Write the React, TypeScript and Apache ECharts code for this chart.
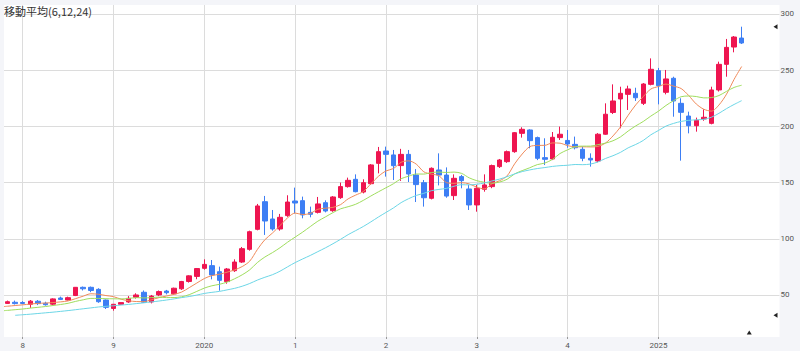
import React, { useEffect, useRef } from "react";
import * as echarts from "echarts";

// Monthly candles, Nov 2017 .. Dec 2025
const firstYear = 2017;
const firstMonth = 11; // November
const opens = [
  42.5, 43.5, 43.3, 41.7, 44.4, 42.6, 41.8, 47.3, 45.5, 49.5,
  56.8, 56.8, 55, 45.5, 38, 41.7, 43.8, 48, 52.4, 43.8,
  50, 53.5, 51, 55.5, 62, 66.5, 73.7, 76.1, 70.7, 61.9,
  71.6, 79.3, 90.6, 108.4, 133.0, 117.6, 108.7, 120.6, 133.6, 133.9,
  123.5, 123.5, 132.1, 125.0, 136.6, 146.4, 152.9, 141.6, 149.0, 167.1,
  178.1, 174.6, 165.1, 175.1, 156.7, 149.9, 136.0, 161.2, 156.7, 138.4,
  155.3, 144.3, 130.1, 144, 146.4, 164.2, 168.6, 177.5, 193.8, 196.8,
  190, 172.2, 171, 190, 187.5, 184, 179.6, 171.6, 169.2, 193,
  212.4, 224.4, 228.5, 229.4, 220.5, 237.4, 249.6, 230.3, 242.8, 220.5,
  209.2, 200.6, 206.6, 202.7, 232.4, 255.2, 270.6, 278.6,
];
const closes = [
  44, 42.3, 42.5, 44.5, 42.3, 41.3, 46.5, 46, 47.6, 56.8,
  55.5, 54, 44, 39, 41.7, 43.2, 47, 50, 43.5, 49,
  53, 52, 56, 62, 67, 73.5, 77.2, 67.8, 63.0, 73.1,
  79.3, 91.2, 106.3, 129.2, 115.8, 108.7, 119.1, 132.7, 131.8, 121.2,
  121.8, 131.0, 124.7, 137.2, 146.4, 152.0, 141.9, 149.9, 165.7, 177.5,
  175.1, 165.0, 175.1, 157.6, 148.2, 136.5, 162.7, 156.7, 138, 153.8,
  151.7, 130.1, 144.9, 147.9, 165.1, 170.1, 177.5, 194.4, 197.4, 187.3,
  171.6, 170.7, 190.3, 193, 184.3, 181, 171.6, 170.1, 193, 210.8,
  222.6, 229.4, 233.3, 225.5, 237.7, 250.8, 236.2, 242.2, 222.6, 212.5,
  200.6, 205.4, 208.1, 232.4, 255.2, 270.3, 279.5, 274.2,
];
const highs = [
  45, 45, 44.5, 45.5, 45.5, 44, 47, 48.5, 48.5, 57,
  57.5, 57.5, 56, 46, 42, 43.5, 49, 51.5, 54, 50,
  54, 54.5, 56.5, 62.5, 67.5, 74, 81.7, 81.1, 75.2, 74,
  81.7, 92.7, 107.2, 131, 138.1, 125.6, 122.1, 138.7, 145.5, 137.5,
  128.6, 137.2, 134.2, 138, 150, 154.4, 157.3, 152.9, 166.5, 181.7,
  182, 179, 180, 179, 162, 152.3, 163.5, 176, 163.5, 157.3,
  156.8, 147.9, 147.9, 157.3, 166, 171, 178.5, 195, 199.2, 197.4,
  190.9, 189.4, 195, 199.8, 196.8, 190.9, 182, 176, 194, 220.5,
  237.4, 235.3, 236.2, 234.4, 238.5, 260.5, 252, 250.2, 244.2, 225,
  213.1, 207.8, 215.2, 235.3, 257.6, 277.8, 280.4, 288.7,
];
const lows = [
  42, 41.5, 41.8, 38.5, 41, 40.5, 41, 45.5, 45, 49,
  54, 52.5, 43, 37.5, 36, 41.5, 43, 46.8, 43, 42.5,
  49, 50.5, 50, 54.5, 61, 64, 72.5, 63.9, 53.8, 60,
  70.5, 78.5, 89.4, 107.5, 103.4, 107.2, 107.2, 119.5, 122.6, 118.2,
  119.1, 122.5, 123.5, 124, 135.5, 145.5, 141.3, 140.4, 148, 158.2,
  155.3, 152.3, 151.5, 150.5, 132.7, 128.6, 135, 147.5, 136.5, 134.5,
  144.9, 125.6, 124.1, 141.9, 145, 163, 167.5, 176.5, 190, 180.5,
  170, 165.6, 170, 187.9, 181, 179.5, 169, 164.2, 168, 192.5,
  211, 198.3, 214.6, 222.6, 219, 236.5, 219.6, 228.5, 208.6, 169.5,
  193.8, 195.3, 205, 201.8, 231, 244.2, 265.9, 273.3,
];
const ma6Head = [39.4, 40.0, 40.6, 41.2, 41.9, 42.5]; // Oct 2017 .. Mar 2018
const ma12Head = [35.7, 36.3, 36.9, 37.5, 38.3, 39.0, 39.7, 40.6, 41.5, 42.6, 44.3, 45.7]; // Oct 2017 .. Sep 2018
const ma24Head = [
  31.9, 32.4, 32.9, 33.5, 34.1, 34.7, 35.4, 36.1, 36.9, 37.7, 38.5,
  39.3, 39.9, 40.4, 41.0, 41.6, 42.3, 43.0, 43.8, 44.6, 45.5, 46.5,
]; // Dec 2017 .. Sep 2019
const yTicks = [50, 100, 150, 200, 250, 300];
const leadBlank = 1;
const trailBlank = 5;
const titleText = "移動平均(6,12,24)";

const nData = closes.length;
const nCat = leadBlank + nData + trailBlank;
const categories: string[] = [];
const catYear: number[] = [];
const catMonth: number[] = [];
for (let k = 0; k < nCat; k++) {
  const m0 = firstYear * 12 + (firstMonth - 1) + (k - leadBlank);
  const y = Math.floor(m0 / 12);
  const m = (m0 % 12) + 1;
  categories.push(`${y}-${m < 10 ? "0" + m : m}`);
  catYear.push(y);
  catMonth.push(m);
}

function movingAvg(period: number, head: number[], headStart: number): (number | string)[] {
  const out: (number | string)[] = [];
  for (let k = 0; k < nCat; k++) {
    const i = k - leadBlank;
    if (i >= period - 1 && i < nData) {
      let s = 0;
      for (let j = i - period + 1; j <= i; j++) s += closes[j];
      out.push(+(s / period).toFixed(2));
    } else if (k >= headStart && k - headStart < head.length && i < nData) {
      out.push(head[k - headStart]);
    } else {
      out.push("-");
    }
  }
  return out;
}

export default function App() {
  const ref = useRef<HTMLDivElement>(null);
  useEffect(() => {
    document.body.style.margin = "0";
    if (!ref.current) return;
    const chart = echarts.init(ref.current, null, { renderer: "svg" });
    const candleData: any[] = [];
    for (let k = 0; k < nCat; k++) {
      const i = k - leadBlank;
      if (i >= 0 && i < nData) candleData.push([opens[i], closes[i], lows[i], highs[i]]);
      else candleData.push(["-", "-", "-", "-"]);
    }
    const ma6 = movingAvg(6, ma6Head, 0);
    const ma12 = movingAvg(12, ma12Head, 0);
    const ma24 = movingAvg(24, ma24Head, 2);
    const isJan = (idx: number) => catMonth[idx] === 1 && idx < leadBlank + nData;
    const maxHigh = Math.max(...highs);
    const numeric = (arr: (number | string)[]) => arr.filter((v) => typeof v === "number") as number[];
    const minAll = Math.min(...lows, ...numeric(ma6), ...numeric(ma12), ...numeric(ma24));
    const up = "#ee1550";
    const down = "#3d7ef4";
    const gridColor = "#dcdcdc";
    const leftMask = {
      type: "rect",
      left: 0,
      top: 0,
      shape: { width: 4, height: 351 },
      style: { fill: "#f4f5f9" },
      z: 100,
    };

    const option: any = {
      animation: false,
      backgroundColor: "#f4f5f9",
      title: {
        text: titleText,
        left: 4,
        top: 5,
        padding: 0,
        textStyle: { fontSize: 11, fontWeight: "normal", color: "#333", fontFamily: "'Noto Sans CJK JP', sans-serif" },
      },
      grid: {
        left: 0,
        right: 20.5,
        top: 5,
        bottom: 14,
        show: true,
        backgroundColor: "#ffffff",
        borderWidth: 0,
        containLabel: false,
        outerBoundsMode: "none",
      },
      xAxis: {
        type: "category",
        data: categories,
        boundaryGap: false,
        axisLine: { show: false },
        axisTick: {
          show: true,
          length: 2,
          interval: (idx: number) => isJan(idx),
          lineStyle: { color: "#999" },
        },
        axisLabel: {
          interval: (idx: number) => isJan(idx),
          formatter: (_v: string, idx: number) => {
            const y = catYear[idx];
            return y % 5 === 0 ? String(y) : String(y % 10);
          },
          fontSize: 8,
          color: "#555",
          margin: 4,
          fontFamily: "Roboto, sans-serif",
        },
        splitLine: {
          show: true,
          interval: (idx: number) => isJan(idx),
          lineStyle: { color: gridColor, width: 1 },
        },
      },
      yAxis: {
        type: "value",
        position: "right",
        min: 12.6,
        max: 308,
        axisLine: { show: false },
        axisTick: { show: false, customValues: yTicks },
        axisLabel: {
          customValues: yTicks,
          fontSize: 8,
          color: "#555",
          margin: 1,
          fontFamily: "Roboto, sans-serif",
        },
        splitLine: { show: true, lineStyle: { color: gridColor, width: 1 } },
      },
      series: [
        {
          type: "candlestick",
          data: candleData,
          barWidth: 5,
          itemStyle: {
            color: up,
            color0: down,
            borderColor: up,
            borderColor0: down,
            borderWidth: 1,
          },
          z: 3,
        },
        {
          type: "line",
          data: ma6,
          showSymbol: false,
          smooth: 0.3,
          lineStyle: { color: "#ef8a5a", width: 1 },
          z: 4,
        },
        {
          type: "line",
          data: ma12,
          showSymbol: false,
          smooth: 0.3,
          lineStyle: { color: "#9fdd5e", width: 1 },
          z: 4,
        },
        {
          type: "line",
          data: ma24,
          showSymbol: false,
          smooth: 0.3,
          lineStyle: { color: "#6cd6e6", width: 1 },
          z: 4,
        },
      ],
      graphic: [leftMask],
    };
    chart.setOption(option);
    const yHi = chart.convertToPixel({ yAxisIndex: 0 }, maxHigh) as number;
    const yLo = chart.convertToPixel({ yAxisIndex: 0 }, minAll) as number;
    const xNext = chart.convertToPixel({ xAxisIndex: 0 }, categories[leadBlank + nData]) as number;
    chart.setOption({
      graphic: [
        leftMask,
        {
          type: "polygon",
          shape: { points: [[777.5, yHi - 2.5], [777.5, yHi + 2.5], [773.5, yHi]] },
          style: { fill: "#222" },
          z: 100,
        },
        {
          type: "polygon",
          shape: { points: [[777.5, yLo - 2.5], [777.5, yLo + 2.5], [773.5, yLo]] },
          style: { fill: "#222" },
          z: 100,
        },
        {
          type: "polygon",
          shape: { points: [[xNext - 2.5, 334.5], [xNext + 2.5, 334.5], [xNext, 330.5]] },
          style: { fill: "#222" },
          z: 100,
        },
      ],
    });
    return () => chart.dispose();
  }, []);
  return <div ref={ref} style={{ width: 800, height: 351 }} />;
}
